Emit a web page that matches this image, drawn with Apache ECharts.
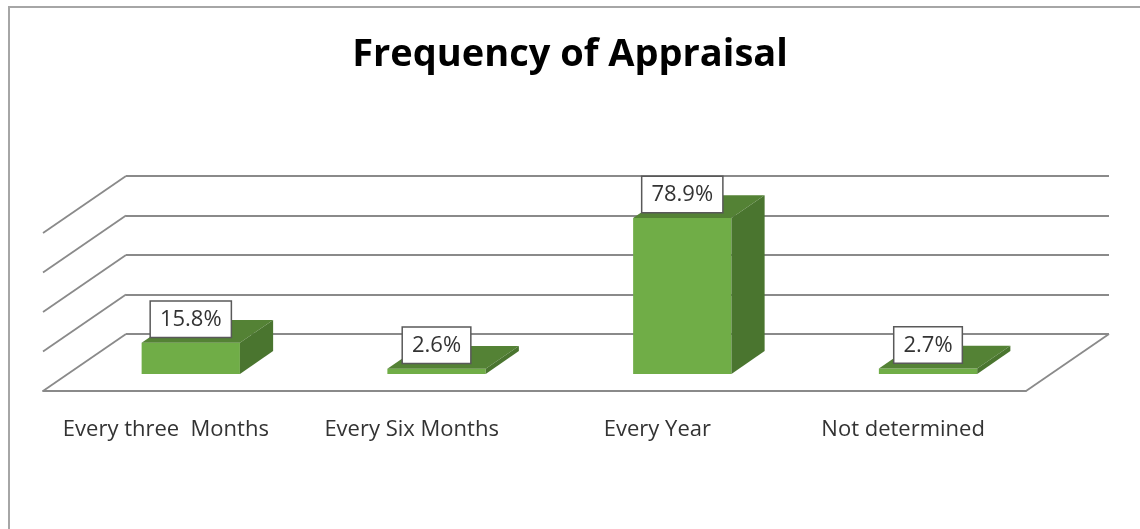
<!DOCTYPE html>
<html>
<head>
<meta charset="utf-8">
<title>Frequency of Appraisal</title>
<script src="https://cdn.jsdelivr.net/npm/echarts@6/dist/echarts.min.js"></script>
<style>
    html, body { margin: 0; padding: 0; background: #fff; }
    #chart { width: 1140px; height: 529px; }
</style>
</head>
<body>
<div id="chart"></div>
<script>
// 数据
var categories = ['Every three  Months', 'Every Six Months', 'Every Year', 'Not determined'];
var values = [15.8, 2.6, 78.9, 2.7];
var yTicks = [0, 20, 40, 60, 80];

// 透视方向（后墙 -> 前沿）
var DX = -83, DY = 57;
var FRONT = 0.7, BACK = 0.3;
var FONT = '"Open Sans", Lato, sans-serif';

var chart = echarts.init(document.getElementById('chart'));

//左墙斜线 + 地面右侧斜线
function renderWall(params, api) {
    var v = api.value(1);
    var cs = params.coordSys;
    var y = api.coord([0, v])[1];
    var lineStyle = { stroke: '#8a8a8a', lineWidth: 1.8 };
    var children = [{
        type: 'line',
        shape: { x1: cs.x, y1: y, x2: cs.x + DX, y2: y + DY },
        style: lineStyle
    }];
    if (v === 0) {
        children.push({
            type: 'line',
            shape: { x1: cs.x + cs.width, y1: y, x2: cs.x + cs.width + DX, y2: y + DY },
            style: lineStyle
        });
    }
    return { type: 'group', children: children };
}

//立体柱子
function renderBar(params, api) {
    var i = api.value(0);
    var v = api.value(1);
    var base = api.coord([i, 0]);
    var top = api.coord([i, v]);
    var w = api.size([1, 0])[0] * 0.4;
    var fx = DX * FRONT, fy = DY * FRONT;
    var bx = DX * BACK, by = DY * BACK;
    var l = base[0] - w / 2, r = base[0] + w / 2;
    var ft = top[1] + fy, fb = base[1] + fy;
    var bt = top[1] + by, bb = base[1] + by;
    return {
        type: 'group',
        children: [{
            type: 'rect',
            shape: { x: l + fx, y: ft, width: w, height: fb - ft },
            style: { fill: '#70ad47' }
        }, {
            type: 'polygon',
            shape: { points: [[l + fx, ft], [r + fx, ft], [r + bx, bt], [l + bx, bt]] },
            style: { fill: '#548235' }
        }, {
            type: 'polygon',
            shape: { points: [[r + fx, ft], [r + bx, bt], [r + bx, bb], [r + fx, fb]] },
            style: { fill: '#4a752f' }
        }, {
            type: 'text',
            z2: 10,
            style: {
                x: base[0] + fx,
                y: ft - 6,
                text: v.toFixed(1) + '%',
                align: 'center',
                verticalAlign: 'bottom',
                font: '22px ' + FONT,
                fill: '#333',
                backgroundColor: '#fff',
                borderColor: '#595959',
                borderWidth: 1.5,
                padding: [7, 9, 6, 9]
            }
        }]
    };
}

chart.setOption({
    backgroundColor: '#fff',
    animation: false,
    title: {
        text: 'Frequency of Appraisal',
        left: 'center',
        top: 31,
        textStyle: { fontFamily: FONT, fontWeight: 'bold', fontSize: 38, color: '#000' }
    },
    graphic: [{
        type: 'rect',
        shape: { x: 9, y: 7, width: 1200, height: 600 },
        style: { fill: 'none', stroke: '#a6a6a6', lineWidth: 2 },
        silent: true
    }],
    grid: [
        { left: 126, right: 31, top: 176, bottom: 195 },
        { left: 43, right: 114, top: 233, bottom: 138 }
    ],
    xAxis: [{
        type: 'category',
        gridIndex: 0,
        data: categories,
        axisLine: { show: false },
        axisTick: { show: false },
        axisLabel: { show: false }
    }, {
        type: 'category',
        gridIndex: 1,
        data: categories,
        axisLine: { lineStyle: { color: '#8a8a8a', width: 1.8 } },
        axisTick: { show: false },
        axisLabel: { interval: 0, hideOverlap: false, margin: 28, fontFamily: FONT, fontSize: 22, color: '#333' }
    }],
    yAxis: [{
        type: 'value',
        gridIndex: 0,
        min: 0,
        max: 80,
        interval: 20,
        axisLine: { show: false },
        axisTick: { show: false },
        axisLabel: { show: false },
        splitLine: { lineStyle: { color: '#8a8a8a', width: 1.8 } }
    }, {
        type: 'value',
        gridIndex: 1,
        min: 0,
        max: 80,
        show: false,
        splitLine: { show: false }
    }],
    series: [{
        type: 'custom',
        xAxisIndex: 0,
        yAxisIndex: 0,
        z: 1,
        silent: true,
        renderItem: renderWall,
        data: yTicks.map(function (t) { return [0, t]; })
    }, {
        type: 'custom',
        xAxisIndex: 0,
        yAxisIndex: 0,
        z: 5,
        renderItem: renderBar,
        data: values.map(function (v, i) { return [i, v]; })
    }]
});
</script>
</body>
</html>
